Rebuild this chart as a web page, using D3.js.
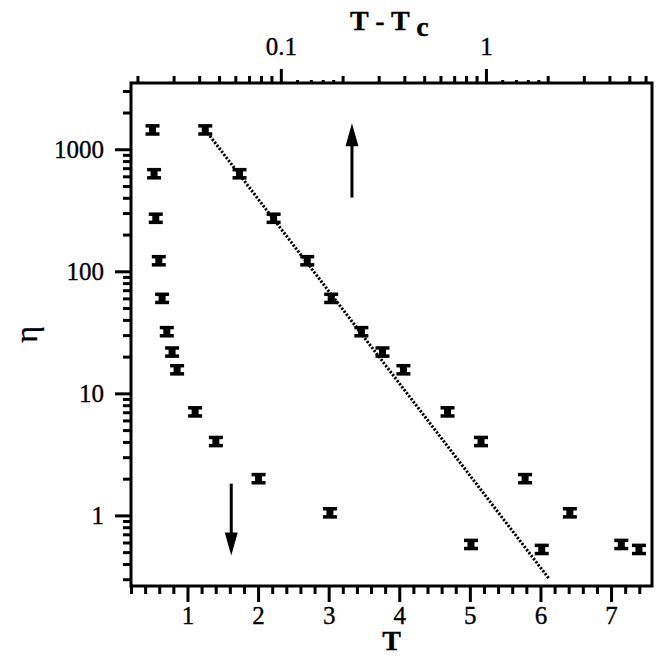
<!DOCTYPE html>
<html><head><meta charset="utf-8">
<script src="https://cdn.jsdelivr.net/npm/d3@7"></script>
<style>body{margin:0;background:#fff}svg{display:block}svg text{font-family:"Liberation Serif","Times New Roman",Times,serif;fill:#000;stroke:#000;stroke-width:0.35px}</style>
</head><body>
<svg id="c" width="666" height="666"></svg>
<script>
// ---- data ----
const etaValues = [1440, 630, 272, 122, 60, 32, 21.8, 15.6, 7.05, 4.03, 2.0, 1.05, 0.578, 0.526];
const tempT     = [0.505, 0.527, 0.551, 0.594, 0.641, 0.707, 0.782, 0.853, 1.108, 1.402, 2.007, 3.018, 5.016, 6.018];
const reducedT  = [0.0428, 0.0629, 0.0922, 0.1345, 0.176, 0.247, 0.313, 0.396, 0.650, 0.946, 1.552, 2.565, 4.57, 5.57];
const errFactor = 1.08;
const fitReducedT = [0.0428, 2.03];
const fitEta      = [1440, 0.303];
const bottomMajor = [1, 2, 3, 4, 5, 6, 7];
const bottomMinor = [0.2,0.4,0.6,0.8,1.2,1.4,1.6,1.8,2.2,2.4,2.6,2.8,3.2,3.4,3.6,3.8,4.2,4.4,4.6,4.8,5.2,5.4,5.6,5.8,6.2,6.4,6.6,6.8,7.2,7.4];
const leftMajor = [1, 10, 100, 1000];
const leftMinor = [0.3,0.4,0.5,0.6,0.7,0.8,0.9,2,3,4,5,6,7,8,9,20,30,40,50,60,70,80,90,200,300,400,500,600,700,800,900,2000,3000];
const topMajor = [0.1, 1];
const topMinor = [0.02,0.03,0.04,0.05,0.06,0.07,0.08,0.09,0.2,0.3,0.4,0.5,0.6,0.7,0.8,0.9,2,3,4,5,6];
const topTiny  = [0.12,0.14,0.16,0.18,1.2,1.4,1.6,1.8];
const arrowT    = [3.33, 1.62];
const arrowFrom = [402, 1.82];
const arrowTo   = [1633, 0.47];

// ---- layout ----
const W = 666, H = 666, m = {l:131, t:83, r:14, b:80};
const svg = d3.select("#c");
const x = d3.scaleLinear().domain([0.2, 7.58]).range([m.l, W - m.r]);
const xTop = d3.scaleLog().domain([0.0186, 6.45]).range([m.l, W - m.r]);
const y = d3.scaleLog().domain([0.264, 3490]).range([H - m.b, m.t]);
const font = '"Liberation Serif","Times New Roman",Times,serif';

function styleAxis(g){
  g.attr("font-family", null).attr("font-size", null);
  g.select(".domain").remove();
  g.selectAll(".tick line").attr("stroke","#000").attr("stroke-width",3);
  g.selectAll(".tick text").style("font-family",font).attr("fill","#000");
}

// bottom axis
svg.append("g").attr("transform",`translate(0,${H-m.b})`)
  .call(d3.axisBottom(x).tickValues(bottomMinor).tickSize(8).tickFormat("")).call(styleAxis);
svg.append("g").attr("transform",`translate(0,${H-m.b})`)
  .call(d3.axisBottom(x).tickValues(bottomMajor).tickSize(16).tickPadding(4).tickFormat(d3.format("d")))
  .call(styleAxis)
  .call(g=>g.selectAll(".tick text").style("font-size","25px"));

// left axis
svg.append("g").attr("transform",`translate(${m.l},0)`)
  .call(d3.axisLeft(y).tickValues(leftMinor).tickSize(8).tickFormat("")).call(styleAxis);
svg.append("g").attr("transform",`translate(${m.l},0)`)
  .call(d3.axisLeft(y).tickValues(leftMajor).tickSize(16).tickPadding(11).tickFormat(d3.format("d")))
  .call(styleAxis)
  .call(g=>g.selectAll(".tick text").style("font-size","25px"));

// top axis
svg.append("g").attr("transform",`translate(0,${m.t})`)
  .call(d3.axisTop(xTop).tickValues(topTiny).tickSize(3).tickFormat("")).call(styleAxis);
svg.append("g").attr("transform",`translate(0,${m.t})`)
  .call(d3.axisTop(xTop).tickValues(topMinor).tickSize(7).tickFormat("")).call(styleAxis);
svg.append("g").attr("transform",`translate(0,${m.t})`)
  .call(d3.axisTop(xTop).tickValues(topMajor).tickSize(14).tickPadding(14).tickFormat(d=>String(d)))
  .call(styleAxis)
  .call(g=>g.selectAll(".tick text").style("font-size","25px"));

// frame
svg.append("rect").attr("x",m.l).attr("y",m.t).attr("width",W-m.l-m.r).attr("height",H-m.t-m.b)
  .attr("fill","none").attr("stroke","#000").attr("stroke-width",3);

// titles
svg.append("text").attr("x",(m.l+W-m.r)/2).attr("y",650).attr("text-anchor","middle")
  .style("font-family",font).style("font-weight","bold").style("font-size","28px").text("T");
const tt = svg.append("text").attr("x",350).attr("y",30)
  .style("font-family",font).style("font-weight","bold").style("font-size","28px");
tt.append("tspan").text("T - T ");
tt.append("tspan").attr("dy",6).text("c");
svg.append("text").attr("transform",`translate(37,${(m.t+H-m.b)/2}) rotate(-90)`)
  .attr("text-anchor","middle").style("font-family",font).style("font-size","32px").text("η");

// fit line
const fit = fitReducedT.map((t,i)=>[xTop(t), y(fitEta[i])]);
svg.append("path").attr("d",d3.line()(fit)).attr("fill","none").attr("stroke","#000")
  .attr("stroke-width",3).attr("stroke-dasharray","2.2,1.6");

// error-bar markers
function drawMarkers(xs, sx){
  const g = svg.append("g");
  xs.forEach((v,i)=>{
    const cx = sx(v), y0 = y(etaValues[i]*errFactor), y1 = y(etaValues[i]/errFactor);
    g.append("line").attr("x1",cx).attr("x2",cx).attr("y1",y0).attr("y2",y1).attr("stroke","#000").attr("stroke-width",7);
    [y0,y1].forEach(yy=>g.append("line").attr("x1",cx-7).attr("x2",cx+7).attr("y1",yy).attr("y2",yy)
      .attr("stroke","#000").attr("stroke-width",3.5));
  });
}
drawMarkers(tempT, x);
drawMarkers(reducedT, xTop);

// arrows
arrowT.forEach((t,i)=>{
  const ax = x(t), yf = y(arrowFrom[i]), yt = y(arrowTo[i]);
  const dir = yt < yf ? 1 : -1; // 1 = pointing up
  const headLen = 23, hw = 6.5;
  svg.append("line").attr("x1",ax).attr("x2",ax).attr("y1",yf).attr("y2",yt + dir*headLen*0.8)
    .attr("stroke","#000").attr("stroke-width",3);
  svg.append("path").attr("d",`M${ax},${yt} L${ax-hw},${yt+dir*headLen} L${ax+hw},${yt+dir*headLen} Z`).attr("fill","#000");
});
</script>
</body></html>
